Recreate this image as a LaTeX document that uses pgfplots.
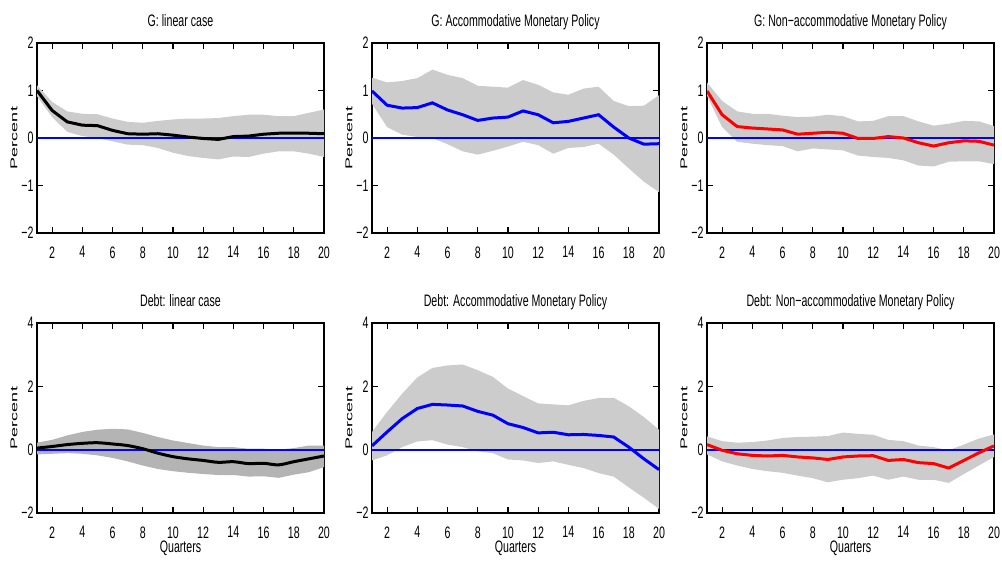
\documentclass[border=0pt]{standalone}
\usepackage{fontspec}
\setmainfont{Liberation Sans}[FakeStretch=0.64]
\newfontfamily\pfont{Liberation Sans}
\usepackage{pgfplots}
\pgfplotsset{compat=1.18}
\definecolor{band}{RGB}{204,204,204}
\definecolor{banddark}{RGB}{180,180,180}
\definecolor{zblue}{RGB}{0,0,255}
\newcommand\tfont{\fontsize{8.3bp}{10bp}\selectfont}

\pgfplotsset{
  panel/.style={
    scale only axis, width=143.5bp, height=95bp,
    anchor=north west,
    xmin=1, xmax=20, xtick={2,4,...,20},
    tick align=inside,
    xtick pos=both, ytick pos=both,
    xticklabel pos=lower, yticklabel pos=left,
    major tick length=3bp,
    tick style={black, line width=0.6bp},
    axis line style={line width=0.75bp},
    /pgf/number format/assume math mode=true,
    tick label style={font=\tfont},
    xticklabel style={yshift=-3.2bp},
    yticklabel style={xshift=1.8bp},
    title style={at={(0.5,1)}, anchor=base, yshift=2.5bp, font=\tfont},
    ylabel style={at={(0,0.5)}, anchor=center, yshift=11.5bp},
    xlabel style={at={(0.5,0)}, anchor=north, yshift=-10.2bp, font=\tfont},
    ylabel={\scalebox{1}[0.55]{\pfont\fontsize{9bp}{10bp}\selectfont Percent}},
  },
  toprow/.style={ymin=-2, ymax=2, ytick={-2,-1,0,1,2}, yticklabels={−2,−1,0,1,2}},
  botrow/.style={ymin=-2, ymax=4, ytick={-2,0,2,4}, yticklabels={−2,0,2,4}, xlabel={Quarters}},
  zeroline/.style={draw=zblue, color=zblue, line width=0.95bp},
  irf/.style={line width=1.5bp},
}

\begin{document}
\begin{tikzpicture}
% ---------- G: linear case
\begin{axis}[panel, toprow, at={(18.5bp,-21.5bp)}, title={G: linear case}]
\addplot[fill=band, draw=none] coordinates {
(1,1.11) (2,0.76) (3,0.56) (4,0.51) (5,0.50) (6,0.41) (7,0.34) (8,0.32) (9,0.36) (10,0.39)
(11,0.41) (12,0.41) (13,0.42) (14,0.46) (15,0.49) (16,0.49) (17,0.46) (18,0.46) (19,0.53) (20,0.60)
(20,-0.40) (19,-0.33) (18,-0.28) (17,-0.28) (16,-0.33) (15,-0.40) (14,-0.39) (13,-0.45) (12,-0.42) (11,-0.38)
(10,-0.31) (9,-0.21) (8,-0.15) (7,-0.14) (6,-0.07) (5,0.00) (4,0.04) (3,0.13) (2,0.44) (1,0.88)};
\addplot[zeroline] coordinates {(1,0) (20,0)};
\addplot[irf, black] coordinates {
(1,1.00) (2,0.58) (3,0.34) (4,0.27) (5,0.26) (6,0.16) (7,0.09) (8,0.08) (9,0.09) (10,0.06)
(11,0.02) (12,-0.01) (13,-0.03) (14,0.03) (15,0.04) (16,0.08) (17,0.10) (18,0.10) (19,0.10) (20,0.09)};
\end{axis}
% ---------- G: accommodative
\begin{axis}[panel, toprow, at={(186bp,-21.5bp)}, title={G: Accommodative Monetary Policy}]
\addplot[fill=band, draw=none] coordinates {
(1,1.27) (2,1.17) (3,1.20) (4,1.26) (5,1.44) (6,1.33) (7,1.26) (8,1.10) (9,1.08) (10,1.06)
(11,1.22) (12,1.12) (13,0.96) (14,0.91) (15,1.04) (16,1.08) (17,0.78) (18,0.67) (19,0.68) (20,0.90)
(20,-1.14) (19,-0.92) (18,-0.64) (17,-0.35) (16,-0.12) (15,-0.19) (14,-0.21) (13,-0.33) (12,-0.15) (11,-0.08)
(10,-0.18) (9,-0.27) (8,-0.35) (7,-0.28) (6,-0.13) (5,0.00) (4,0.02) (3,0.07) (2,0.23) (1,0.72)};
\addplot[zeroline] coordinates {(1,0) (20,0)};
\addplot[irf, blue] coordinates {
(1,0.99) (2,0.69) (3,0.63) (4,0.64) (5,0.74) (6,0.59) (7,0.49) (8,0.37) (9,0.42) (10,0.44)
(11,0.57) (12,0.49) (13,0.32) (14,0.35) (15,0.42) (16,0.49) (17,0.23) (18,0.00) (19,-0.13) (20,-0.12)};
\end{axis}
% ---------- G: non-accommodative
\begin{axis}[panel, toprow, at={(353.5bp,-21.5bp)}, title={G: Non−accommodative Monetary Policy}]
\addplot[fill=band, draw=none] coordinates {
(1,1.17) (2,0.78) (3,0.56) (4,0.51) (5,0.51) (6,0.47) (7,0.44) (8,0.45) (9,0.49) (10,0.46)
(11,0.35) (12,0.36) (13,0.46) (14,0.46) (15,0.35) (16,0.26) (17,0.30) (18,0.36) (19,0.35) (20,0.25)
(20,-0.55) (19,-0.49) (18,-0.49) (17,-0.50) (16,-0.60) (15,-0.58) (14,-0.47) (13,-0.42) (12,-0.40) (11,-0.37)
(10,-0.26) (9,-0.24) (8,-0.22) (7,-0.28) (6,-0.17) (5,-0.15) (4,-0.12) (3,-0.08) (2,0.23) (1,0.89)};
\addplot[zeroline] coordinates {(1,0) (20,0)};
\addplot[irf, red] coordinates {
(1,0.99) (2,0.49) (3,0.24) (4,0.21) (5,0.19) (6,0.17) (7,0.08) (8,0.10) (9,0.12) (10,0.10)
(11,-0.01) (12,-0.01) (13,0.03) (14,0.00) (15,-0.10) (16,-0.17) (17,-0.10) (18,-0.06) (19,-0.07) (20,-0.15)};
\end{axis}
% ---------- Debt: linear case
\begin{axis}[panel, botrow, at={(18.5bp,-161.5bp)}, title={Debt: linear case}]
\addplot[fill=banddark, draw=none] coordinates {
(1,0.22) (2,0.31) (3,0.45) (4,0.56) (5,0.63) (6,0.66) (7,0.64) (8,0.53) (9,0.40) (10,0.29)
(11,0.21) (12,0.13) (13,0.08) (14,0.08) (15,0.03) (16,0.03) (17,0.00) (18,0.05) (19,0.13) (20,0.13)
(20,-0.55) (19,-0.71) (18,-0.79) (17,-0.89) (16,-0.84) (15,-0.85) (14,-0.80) (13,-0.80) (12,-0.77) (11,-0.73)
(10,-0.68) (9,-0.61) (8,-0.50) (7,-0.37) (6,-0.26) (5,-0.18) (4,-0.13) (3,-0.11) (2,-0.13) (1,-0.15)};
\addplot[zeroline] coordinates {(1,0) (20,0)};
\addplot[irf, black, smooth] coordinates {
(1,0.05) (2,0.10) (3,0.16) (4,0.20) (5,0.22) (6,0.18) (7,0.13) (8,0.03) (9,-0.11) (10,-0.22)
(11,-0.29) (12,-0.34) (13,-0.40) (14,-0.38) (15,-0.44) (16,-0.43) (17,-0.48) (18,-0.38) (19,-0.29) (20,-0.20)};
\end{axis}
% ---------- Debt: accommodative
\begin{axis}[panel, botrow, at={(186bp,-161.5bp)}, title={Debt: Accommodative Monetary Policy}]
\addplot[fill=band, draw=none] coordinates {
(1,0.56) (2,1.19) (3,1.77) (4,2.28) (5,2.58) (6,2.66) (7,2.69) (8,2.51) (9,2.30) (10,1.93)
(11,1.69) (12,1.46) (13,1.43) (14,1.40) (15,1.54) (16,1.63) (17,1.64) (18,1.37) (19,1.03) (20,0.63)
(20,-1.87) (19,-1.52) (18,-1.19) (17,-0.85) (16,-0.74) (15,-0.58) (14,-0.48) (13,-0.37) (12,-0.42) (11,-0.34)
(10,-0.31) (9,-0.11) (8,-0.05) (7,0.08) (6,0.16) (5,0.30) (4,0.26) (3,0.08) (2,-0.18) (1,-0.34)};
\addplot[zeroline] coordinates {(1,0) (20,0)};
\addplot[irf, blue] coordinates {
(1,0.12) (2,0.56) (3,0.98) (4,1.30) (5,1.43) (6,1.41) (7,1.38) (8,1.21) (9,1.09) (10,0.82)
(11,0.70) (12,0.53) (13,0.55) (14,0.47) (15,0.48) (16,0.45) (17,0.40) (18,0.08) (19,-0.29) (20,-0.63)};
\end{axis}
% ---------- Debt: non-accommodative
\begin{axis}[panel, botrow, at={(353.5bp,-161.5bp)}, title={Debt: Non−accommodative Monetary Policy}]
\addplot[fill=band, draw=none] coordinates {
(1,0.42) (2,0.27) (3,0.22) (4,0.24) (5,0.29) (6,0.37) (7,0.40) (8,0.41) (9,0.43) (10,0.54)
(11,0.50) (12,0.47) (13,0.31) (14,0.27) (15,0.13) (16,0.08) (17,-0.02) (18,0.16) (19,0.35) (20,0.48)
(20,-0.23) (19,-0.50) (18,-0.77) (17,-1.05) (16,-0.95) (15,-0.95) (14,-0.85) (13,-0.95) (12,-0.82) (11,-0.90)
(10,-0.95) (9,-1.03) (8,-0.90) (7,-0.82) (6,-0.73) (5,-0.68) (4,-0.61) (3,-0.50) (2,-0.37) (1,-0.15)};
\addplot[zeroline] coordinates {(1,0) (20,0)};
\addplot[irf, red] coordinates {
(1,0.16) (2,-0.02) (3,-0.13) (4,-0.18) (5,-0.20) (6,-0.18) (7,-0.23) (8,-0.26) (9,-0.31) (10,-0.23)
(11,-0.20) (12,-0.19) (13,-0.34) (14,-0.31) (15,-0.41) (16,-0.44) (17,-0.58) (18,-0.34) (19,-0.10) (20,0.12)};
\end{axis}
\pgfresetboundingbox
\path[use as bounding box] (0,0) rectangle (501bp,-280.5bp);
\end{tikzpicture}
\end{document}
